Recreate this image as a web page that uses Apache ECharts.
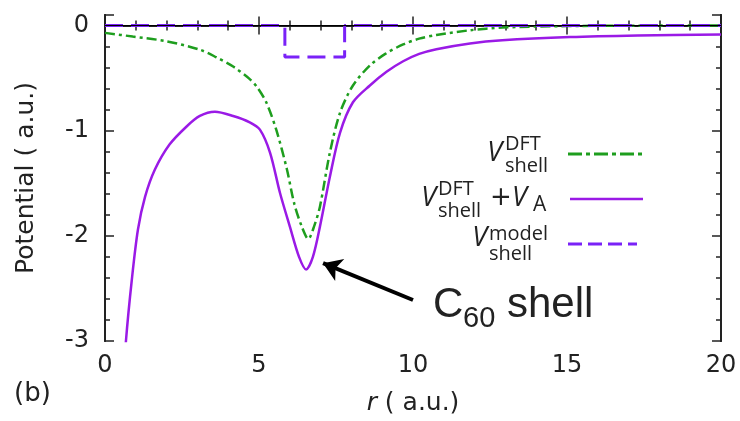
<!DOCTYPE html>
<html>
<head>
<meta charset="utf-8">
<script src="https://cdn.jsdelivr.net/npm/echarts@6/dist/echarts.min.js"></script>
<style>
  html, body { margin: 0; padding: 0; background: #fff; }
  #chart { width: 740px; height: 421px; }
</style>
</head>
<body>
<div id="chart"></div>
<script>
// V_shell^DFT (green dash-dot)
var rDft = [0, 0.9, 2.0, 3.08, 3.6, 4.16, 4.7, 4.95, 5.25, 5.57, 5.9, 6.15, 6.4, 6.6, 6.8, 6.98, 7.3, 7.63, 8.05, 8.6, 9.1, 9.68, 10.2, 10.76, 11.85, 12.9, 14, 16, 20];
var vDft = [-0.07, -0.105, -0.15, -0.23, -0.3, -0.39, -0.51, -0.59, -0.74, -1.0, -1.36, -1.7, -1.92, -2.03, -1.9, -1.72, -1.21, -0.83, -0.57, -0.38, -0.27, -0.18, -0.125, -0.09, -0.045, -0.02, -0.01, -0.003, 0];

// V_shell^DFT + V_A (purple solid)
var rTot = [0.6, 0.68, 0.87, 1.07, 1.3, 1.62, 2.1, 2.65, 3.08, 3.57, 4.16, 4.7, 5.03, 5.36, 5.68, 6.0, 6.3, 6.53, 6.75, 6.98, 7.3, 7.63, 8.05, 8.6, 9.14, 9.68, 10.2, 10.76, 11.85, 12.9, 15.1, 17.3, 20];
var vTot = [-3.4, -3.0, -2.42, -1.94, -1.63, -1.37, -1.13, -0.96, -0.86, -0.82, -0.86, -0.92, -0.99, -1.21, -1.59, -1.91, -2.2, -2.32, -2.2, -1.91, -1.44, -1.02, -0.73, -0.57, -0.44, -0.34, -0.27, -0.225, -0.17, -0.14, -0.11, -0.095, -0.085];

// V_shell^model (violet dashed square well)
var rModel = [0, 5.84, 5.84, 7.78, 7.78, 20];
var vModel = [0, 0, -0.3, -0.3, 0, 0];

// annotation arrow, data coords
var arrowFrom = [10.0, -2.61];
var arrowTo = [7.08, -2.26];

var GREEN = '#1e9e1e', PURPLE = '#9a1ae6', VIOLET = '#7a22f7', INK = '#222';
var FONT = '"Open Sans", sans-serif';
var AXFONT = '"DejaVu Sans", sans-serif';
var ARIAL = '"Liberation Sans", Arial, sans-serif';

function pairs(xs, ys) {
  return xs.map(function (x, i) { return [x, ys[i]]; });
}

function txt(s, x, y, size, align, italic, fam) {
  return {
    type: 'text', z: 100,
    style: {
      text: s, x: x, y: y,
      font: (italic ? 'italic ' : '') + size + 'px ' + (fam || FONT),
      fill: INK, align: align, verticalAlign: 'middle'
    }
  };
}
function sample(y, x1, x2, color, width, dash) {
  return {
    type: 'line', z: 100,
    shape: { x1: x1, y1: y, x2: x2, y2: y },
    style: { stroke: color, lineWidth: width, lineDash: dash || null }
  };
}

function xAx(pos, labels) {
  return {
    type: 'value', min: 0, max: 20, interval: 5, position: pos,
    axisLine: { show: true, lineStyle: { color: INK, width: 2 } },
    axisTick: { show: true, inside: true, length: 9, lineStyle: { color: INK, width: 1.5 } },
    minorTick: { show: true, splitNumber: 5, length: 5, lineStyle: { color: INK, width: 1.5 } },
    splitLine: { show: false },
    axisLabel: { show: labels, color: INK, fontSize: 24, fontFamily: AXFONT, margin: 13 },
    name: labels ? '{i|r} ( a.u.)' : '',
    nameLocation: 'middle', nameGap: 50,
    nameTextStyle: { color: INK, fontSize: 25, fontFamily: AXFONT, rich: { i: { fontStyle: 'italic', fontSize: 25, fontFamily: AXFONT, color: INK } } }
  };
}
function yAx(pos, step, len, labels) {
  return {
    type: 'value', min: -3, max: 0.1, interval: step, position: pos,
    axisLine: { show: true, onZero: false, lineStyle: { color: INK, width: 2 } },
    axisTick: { show: true, inside: true, length: len, lineStyle: { color: INK, width: 1.5 } },
    splitLine: { show: false },
    axisLabel: {
      show: labels, color: INK, fontSize: 24, fontFamily: AXFONT, margin: 16,
      formatter: function (v) { return Math.abs(v - Math.round(v)) < 1e-6 ? String(Math.round(v)) : ''; }
    },
    name: labels ? 'Potential ( a.u.)' : '',
    nameLocation: 'middle', nameGap: 66,
    nameTextStyle: { color: INK, fontSize: 25, fontFamily: AXFONT }
  };
}

var chart = echarts.init(document.getElementById('chart'));
chart.setOption({
  animation: false,
  backgroundColor: '#fff',
  grid: { left: 105, right: 19, top: 15, bottom: 79 },
  xAxis: [xAx('bottom', true), xAx('top', false)],
  yAxis: [yAx('left', 1, 9, true), yAx('left', 0.2, 5, false), yAx('right', 1, 9, false), yAx('right', 0.2, 5, false)],
  series: [
    {
      name: 'dft', type: 'line', z: 2, showSymbol: false, smooth: 0.3,
      data: pairs(rDft, vDft),
      lineStyle: { color: GREEN, width: 2.5, type: [10, 4, 3, 4] },
      markLine: {
        silent: true, symbol: 'none', label: { show: false },
        lineStyle: { color: '#000', width: 1, type: 'solid' },
        data: [{ yAxis: 0 }]
      }
    },
    {
      name: 'tot', type: 'line', z: 3, showSymbol: false, smooth: 0.3,
      data: pairs(rTot, vTot),
      lineStyle: { color: PURPLE, width: 2.5 },
      markLine: {
        silent: true, symbol: ['none', 'arrow'], symbolSize: 18, label: { show: false },
        lineStyle: { color: '#000', width: 4, type: 'solid' },
        data: [[{ coord: arrowFrom }, { coord: arrowTo }]]
      }
    },
    {
      name: 'model', type: 'line', z: 4, showSymbol: false,
      data: pairs(rModel, vModel),
      lineStyle: { color: VIOLET, width: 3, type: [18, 8] }
    }
  ],
  graphic: [
    // legend
    txt('V', 502, 153, 27, 'right', true),
    txt('DFT', 505, 144, 20, 'left'),
    txt('shell', 505, 166, 20, 'left'),
    sample(154, 568, 643, GREEN, 3, [14, 4, 4, 4]),

    txt('V', 436, 198, 27, 'right', true),
    txt('DFT', 438, 189, 20, 'left'),
    txt('shell', 438, 211, 20, 'left'),
    txt('+', 501, 198, 26, 'center', false, AXFONT),
    txt('V', 512, 198, 27, 'left', true),
    txt('A', 533, 205, 21, 'left'),
    sample(199, 570, 643, PURPLE, 2.5),

    txt('V', 487, 238, 27, 'right', true),
    txt('model', 489, 234, 20, 'left'),
    txt('shell', 489, 254, 20, 'left'),
    sample(244, 568, 637, VIOLET, 3, [14, 6]),

    // annotation
    txt('C', 433, 305, 42, 'left', false, ARIAL),
    txt('60', 463, 319, 29, 'left', false, ARIAL),
    txt('shell', 507, 305, 42, 'left', false, ARIAL),

    txt('(b)', 14, 394, 26, 'left', false, AXFONT)
  ]
});
</script>
</body>
</html>
